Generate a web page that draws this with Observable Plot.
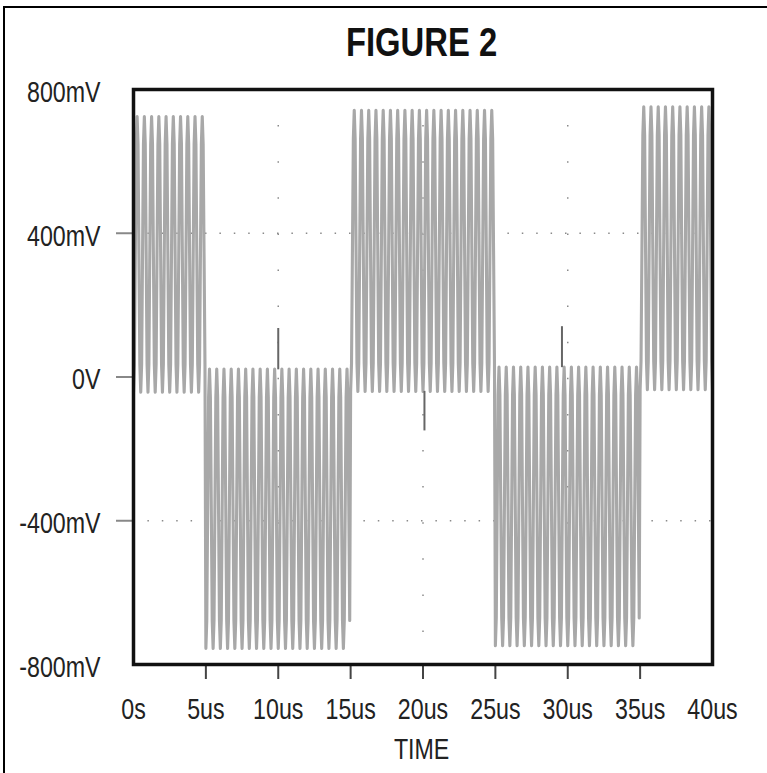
<!DOCTYPE html>
<html>
<head>
<meta charset="utf-8">
<script src="https://cdn.jsdelivr.net/npm/d3@7"></script>
<script src="https://cdn.jsdelivr.net/npm/@observablehq/plot@0.6"></script>
<style>
  html, body { margin: 0; padding: 0; background: #fff; }
  #page { position: relative; width: 767px; height: 773px; overflow: hidden; background: #fff; }
  .edge { position: absolute; background: #000; }
  .hlabel { position: absolute; text-align: center; font-family: "Liberation Sans", Arial, sans-serif; }
  .hlabel span { display: inline-block; transform: scaleX(0.8); transform-origin: center; }
  #title { left: 122px; width: 600px; top: 22px; font-weight: bold; font-size: 41px; line-height: 41px; color: #111; }
  #chart { position: absolute; left: 0; top: 70px; }
  #xlabel { left: 222px; width: 400px; top: 735px; font-size: 29px; line-height: 29px; color: #222; }
</style>
</head>
<body>
<div id="page">
  <div class="edge" style="left:3px;top:6px;width:2px;height:767px"></div>
  <div class="edge" style="left:3px;top:6px;width:764px;height:2px"></div>
  <div id="title" class="hlabel"><span>FIGURE 2</span></div>
  <div id="chart"></div>
  <div id="xlabel" class="hlabel"><span>TIME</span></div>
</div>
<script>
// ---- data ----
// Segments of the modulated carrier (time in us, levels in mV)
const segStart = [0, 5, 15, 25, 35];
const segEnd   = [5, 15, 25, 35, 40];
const segHigh  = [725, 22, 742, 28, 752];
const segLow   = [-42, -755, -40, -748, -35];
// carrier: 2 cycles per microsecond
const cyclesPerUs = 2;
// one carrier period, normalized samples (0 = low level, 1 = high level)
const cycleShape = [0, 0.1, 0.5, 0.9, 1, 0.9, 0.5, 0.1];
// transition glitches
const spikeTime  = [10.0, 20.1, 29.6];
const spikeBase  = [20, -40, 26];
const spikeValue = [135, -150, 140];
// axes
const yTicks = [-800, -400, 0, 400, 800];
const yTickLabels = ["-800mV", "-400mV", "0V", "400mV", "800mV"];
const yTickMarks = [-400, 0, 400];
const xTicks = [0, 5, 10, 15, 20, 25, 30, 35, 40];
const xTickLabels = ["0s", "5us", "10us", "15us", "20us", "25us", "30us", "35us", "40us"];
const xTickMarks = [5, 10, 15, 20, 25, 30, 35];
const yGrid = [-400, 400];
const xGrid = [10, 20, 30];

// ---- build the trace from the segment table ----
const wave = [];
segStart.forEach((s, i) => {
  const nCycles = Math.round((segEnd[i] - s) * cyclesPerUs);
  for (let k = 0; k < nCycles; k++) {
    cycleShape.forEach((f, j) => {
      wave.push({t: s + (k + j / cycleShape.length) / cyclesPerUs,
                 v: segLow[i] + (segHigh[i] - segLow[i]) * f});
    });
  }
});
wave.push({t: 40, v: segLow[4]});
const spikes = spikeTime.map((t, i) => ({t, y1: spikeBase[i], y2: spikeValue[i]}));

const font = '"Liberation Sans", Arial, sans-serif';
const yFmt = d => yTickLabels[yTicks.indexOf(d)];
const xFmt = d => xTickLabels[xTicks.indexOf(d)];

const chart = Plot.plot({
  width: 767,
  height: 655,
  marginLeft: 133,
  marginRight: 55,
  marginTop: 19,
  marginBottom: 61,
  style: {fontFamily: font, fontSize: "29px", color: "#222", background: "transparent"},
  x: {domain: [0, 40], axis: null},
  y: {domain: [-800, 800], axis: null},
  marks: [
    Plot.ruleY(yGrid, {stroke: "#8a8a8a", strokeWidth: 1.5, strokeDasharray: "1.5,12.9"}),
    Plot.ruleX(xGrid, {stroke: "#8a8a8a", strokeWidth: 1.5, strokeDasharray: "1.5,34.6"}),
    Plot.line(wave, {x: "t", y: "v", stroke: "#a8a8a8", strokeWidth: 3.1}),
    Plot.ruleX(spikes, {x: "t", y1: "y1", y2: "y2", stroke: "#666", strokeWidth: 2}),
    Plot.axisY({ticks: yTickMarks, tickSize: 17, tickFormat: () => "", stroke: "#888", strokeWidth: 2, label: null}),
    Plot.axisY({ticks: yTicks, tickSize: 0, tickPadding: 33, tickFormat: yFmt, fontSize: 29, dy: 3, label: null}),
    Plot.axisX({ticks: xTickMarks, tickSize: 15, tickFormat: () => "", stroke: "#444", strokeWidth: 2, label: null}),
    Plot.axisX({ticks: xTicks, tickSize: 0, tickPadding: 34, tickFormat: xFmt, fontSize: 29, label: null}),
    Plot.frame({stroke: "#111", strokeWidth: 3.5})
  ]
});
document.getElementById("chart").appendChild(chart);
// condense the axis lettering (the reference uses a narrow face)
chart.querySelectorAll("text").forEach(el => {
  if (!el.textContent) return;
  const w = el.getComputedTextLength();
  if (w > 0) {
    el.setAttribute("textLength", (w * 0.8).toFixed(2));
    el.setAttribute("lengthAdjust", "spacingAndGlyphs");
  }
});
</script>
</body>
</html>
